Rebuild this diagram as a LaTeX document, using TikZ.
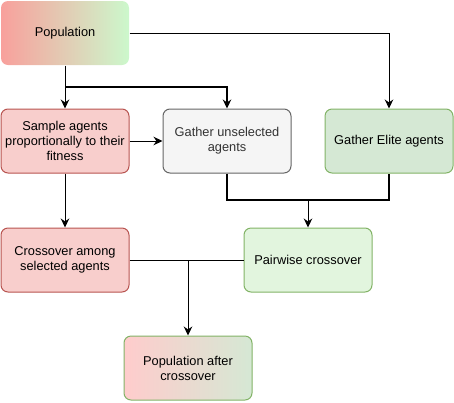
\documentclass[tikz,border=0pt]{standalone}
\usepackage{fontspec}
\setmainfont{Liberation Sans}
\usepackage{tikz}
\usetikzlibrary{arrows.meta}

\definecolor{popred}{HTML}{F8A09C}
\definecolor{popgreen}{HTML}{CCF8CC}
\definecolor{redfill}{HTML}{F8CECC}
\definecolor{redline}{HTML}{B85450}
\definecolor{greyfill}{HTML}{F5F5F5}
\definecolor{greyline}{HTML}{666666}
\definecolor{greytext}{HTML}{333333}
\definecolor{greenfill}{HTML}{D5E8D4}
\definecolor{greenline}{HTML}{82B366}
\definecolor{palegreen}{HTML}{E2F5DE}
\definecolor{afterred}{HTML}{FFCCCC}

\tikzset{
	box/.style={rounded corners=7pt, minimum width=128pt, minimum height=64pt,
		align=center, inner sep=2pt, line width=1pt,
		font=\fontsize{12.8}{15}\selectfont},
	flow/.style={-{Stealth[length=9pt,width=8.5pt]}, line width=1pt},
}

\begin{document}
\begin{tikzpicture}[x=1pt, y=-1pt]
		\useasboundingbox (0,0) rectangle (454,402);
	
		% Boxes of the first row
		\node[box, left color=popred, right color=popgreen] (pop) at (65,33) {Population};
	
		% Boxes of the second row
		\node[box, draw=redline, fill=redfill] (sample) at (65,141) {Sample agents\\proportionally to their\\fitness};
		\node[box, draw=greyline, fill=greyfill, text=greytext] (unsel) at (227,141) {Gather unselected\\agents};
		\node[box, draw=greenline, fill=greenfill] (elite) at (389,141) {Gather Elite agents};
	
		% Boxes of the third row
		\node[box, draw=redline, fill=redfill] (cross) at (65,260) {Crossover among\\selected agents};
		\node[box, draw=greenline, fill=palegreen] (pair) at (308,260) {Pairwise crossover};
	
		% Result box
		\node[box, draw=greenline, left color=afterred, right color=greenfill] (after) at (188,368) {Population after\\crossover};
	
		% Points where lines split or join
		\coordinate (split) at (65,87);
		\coordinate (merge) at (308,200);
		\coordinate (meet) at (188,260);
	
		% Arrows out of the population
		\draw[flow] (pop) -- (sample);
		\draw[flow, line width=1.3pt] (split) -| (unsel.north);
		\draw[flow] (pop.east) -| (elite.north);
		\draw[flow] (sample) -- (unsel);
		\draw[flow] (sample) -- (cross);
	
		% Unselected and elite agents go to pairwise crossover
		\draw[line width=2pt] (unsel.south) |- (merge) -| (elite.south);
		\draw[flow] (merge) -- (pair);
	
		% Both crossovers give the new population
		\draw[line width=1pt] (cross) -- (pair);
		\draw[flow] (meet) -- (after);
	
	\end{tikzpicture}
\end{document}
